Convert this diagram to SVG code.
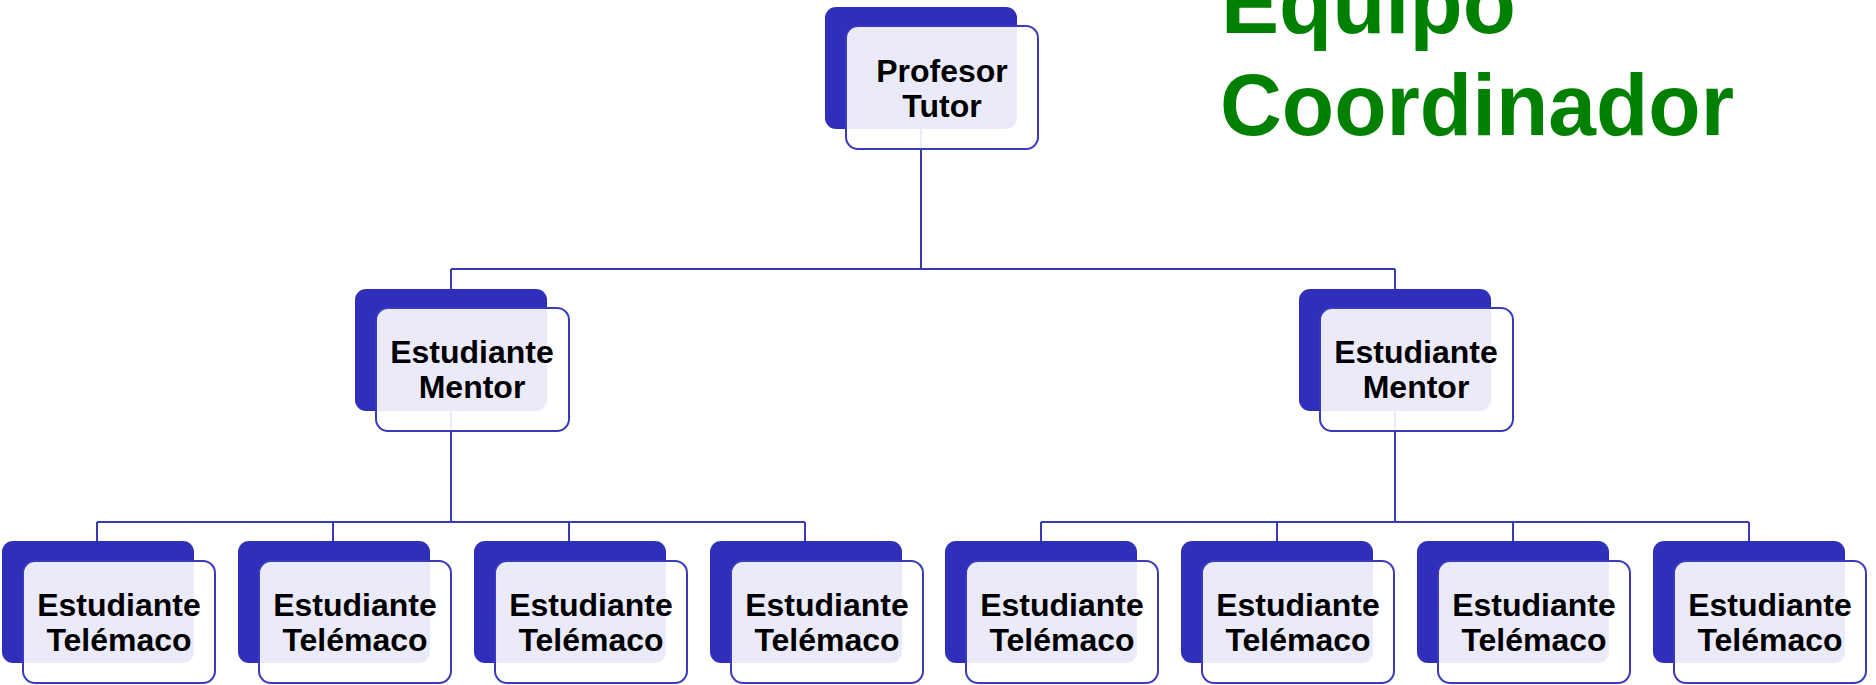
<svg xmlns="http://www.w3.org/2000/svg" width="1876" height="685" viewBox="0 0 1876 685">
<style>
.back{fill:#2F2FB9;}
.front{fill:#ffffff;fill-opacity:0.9;stroke:#3A3ABE;stroke-width:2;}
.lbl{font-family:"Liberation Sans",Arial,sans-serif;font-weight:bold;font-size:32px;fill:#000;text-anchor:middle;}
.conn{fill:none;stroke:#3A3AB4;stroke-width:2;}
.title{font-family:"Liberation Sans",Arial,sans-serif;font-weight:bold;font-size:87px;fill:#008000;}
</style>
<rect width="1876" height="685" fill="#ffffff"/>
<g id="connectors" class="conn">
<path d="M921,128 V269 M451,269 H1395 M451,269 V289 M1395,269 V289"/>
<path d="M451,410 V522 M97,522 H805 M97,522 V541 M333,522 V541 M569,522 V541 M805,522 V541"/>
<path d="M1395,410 V522 M1041,522 H1749 M1041,522 V541 M1277,522 V541 M1513,522 V541 M1749,522 V541"/>
</g>
<g id="title">
<text class="title" x="1221" y="33">Equipo</text>
<text class="title" x="1220" y="135" textLength="514" lengthAdjust="spacingAndGlyphs">Coordinador</text>
</g>
<g id="n-profesor">
<rect class="back" x="825" y="7" width="192" height="122" rx="11"/>
<rect class="front" x="846" y="26" width="192" height="123" rx="12"/>
<text class="lbl" x="942" y="82">Profesor</text>
<text class="lbl" x="942" y="117">Tutor</text>
</g>
<g id="n-mentor1">
<rect class="back" x="355" y="289" width="192" height="122" rx="11"/>
<rect class="front" x="376" y="308" width="193" height="123" rx="12"/>
<text class="lbl" x="472" y="363">Estudiante</text>
<text class="lbl" x="472" y="398">Mentor</text>
</g>
<g id="n-mentor2">
<rect class="back" x="1299" y="289" width="192" height="122" rx="11"/>
<rect class="front" x="1320" y="308" width="193" height="123" rx="12"/>
<text class="lbl" x="1416" y="363">Estudiante</text>
<text class="lbl" x="1416" y="398">Mentor</text>
</g>
<g id="n-t1">
<rect class="back" x="2" y="541" width="192" height="122" rx="11"/>
<rect class="front" x="23" y="561" width="192" height="122" rx="12"/>
<text class="lbl" x="119" y="616">Estudiante</text>
<text class="lbl" x="119" y="651">Telémaco</text>
</g>
<g id="n-t2">
<rect class="back" x="238" y="541" width="192" height="122" rx="11"/>
<rect class="front" x="259" y="561" width="192" height="122" rx="12"/>
<text class="lbl" x="355" y="616">Estudiante</text>
<text class="lbl" x="355" y="651">Telémaco</text>
</g>
<g id="n-t3">
<rect class="back" x="474" y="541" width="192" height="122" rx="11"/>
<rect class="front" x="495" y="561" width="192" height="122" rx="12"/>
<text class="lbl" x="591" y="616">Estudiante</text>
<text class="lbl" x="591" y="651">Telémaco</text>
</g>
<g id="n-t4">
<rect class="back" x="710" y="541" width="192" height="122" rx="11"/>
<rect class="front" x="731" y="561" width="192" height="122" rx="12"/>
<text class="lbl" x="827" y="616">Estudiante</text>
<text class="lbl" x="827" y="651">Telémaco</text>
</g>
<g id="n-t5">
<rect class="back" x="945" y="541" width="192" height="122" rx="11"/>
<rect class="front" x="966" y="561" width="192" height="122" rx="12"/>
<text class="lbl" x="1062" y="616">Estudiante</text>
<text class="lbl" x="1062" y="651">Telémaco</text>
</g>
<g id="n-t6">
<rect class="back" x="1181" y="541" width="192" height="122" rx="11"/>
<rect class="front" x="1202" y="561" width="192" height="122" rx="12"/>
<text class="lbl" x="1298" y="616">Estudiante</text>
<text class="lbl" x="1298" y="651">Telémaco</text>
</g>
<g id="n-t7">
<rect class="back" x="1417" y="541" width="192" height="122" rx="11"/>
<rect class="front" x="1438" y="561" width="192" height="122" rx="12"/>
<text class="lbl" x="1534" y="616">Estudiante</text>
<text class="lbl" x="1534" y="651">Telémaco</text>
</g>
<g id="n-t8">
<rect class="back" x="1653" y="541" width="192" height="122" rx="11"/>
<rect class="front" x="1674" y="561" width="192" height="122" rx="12"/>
<text class="lbl" x="1770" y="616">Estudiante</text>
<text class="lbl" x="1770" y="651">Telémaco</text>
</g>
</svg>
